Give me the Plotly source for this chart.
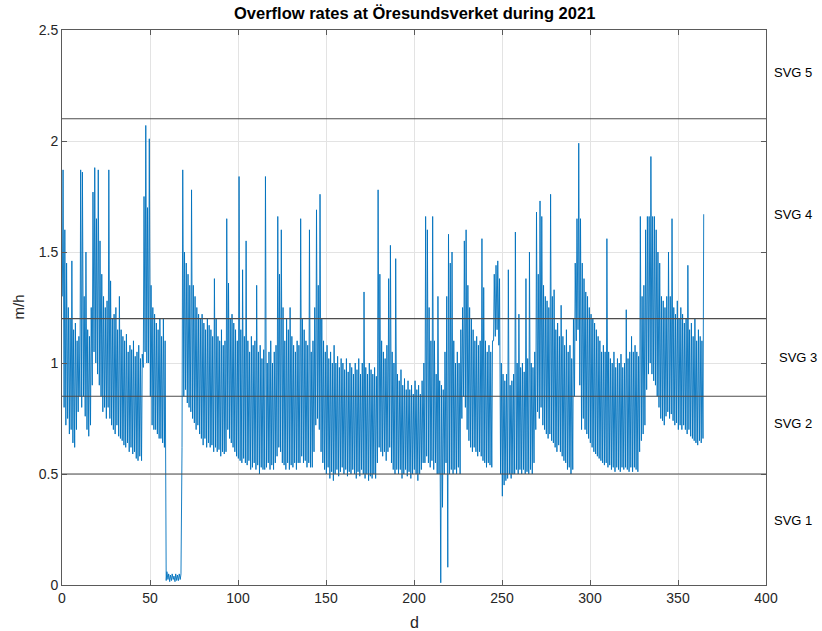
import plotly.graph_objects as go

# Daily overflow-rate extremes (m/h) at Öresundsverket, 2021, day index 0..364
day_high = [
    1.87, 1.60, 1.45, 1.25, 1.20, 1.46, 1.15, 1.18, 1.10, 1.12,
    1.87, 1.86, 1.30, 1.50, 1.15, 1.12, 1.25, 1.77, 1.88, 1.65,
    1.87, 1.55, 1.40, 1.30, 1.25, 1.28, 1.87, 1.37, 1.20, 1.22,
    1.25, 1.15, 1.30, 1.15, 1.12, 1.10, 1.13, 1.05, 1.08, 1.06,
    1.10, 1.03, 1.05, 1.08, 1.02, 1.04, 1.75, 2.07, 1.70, 2.01,
    1.35, 1.25, 1.22, 1.18, 1.15, 1.20, 1.12, 1.20, 1.10, 0.06,
    0.05, 0.045, 0.05, 0.04, 0.05, 0.045, 0.05, 0.05, 1.87, 1.50,
    1.45, 1.40, 1.35, 1.78, 1.35, 1.30, 1.25, 1.22, 1.20, 1.22,
    1.18, 1.15, 1.20, 1.17, 1.15, 1.12, 1.38, 1.20, 1.12, 1.10,
    1.15, 1.08, 1.10, 1.65, 1.36, 1.20, 1.22, 1.18, 1.15, 1.10,
    1.84, 1.15, 1.42, 1.12, 1.55, 1.10, 1.05, 1.12, 1.08, 1.10,
    1.35, 1.05, 1.08, 1.02, 1.06, 1.84, 1.00, 1.05, 1.10, 1.00,
    1.05, 1.08, 1.66, 1.40, 1.60, 1.25, 1.10, 1.20, 1.15, 1.25,
    1.12, 1.08, 1.05, 1.10, 1.08, 1.65, 1.20, 1.15, 1.10, 1.08,
    1.60, 1.05, 1.10, 1.25, 1.69, 1.35, 1.76, 1.20, 1.10, 1.05,
    1.08, 1.02, 1.05, 1.00, 1.08, 1.00, 1.03, 0.98, 1.02, 1.00,
    0.97, 1.02, 0.96, 1.00, 0.98, 0.95, 1.00, 0.97, 1.02, 0.95,
    1.00, 1.32, 0.98, 0.95, 1.00, 0.97, 0.95, 0.98, 0.94, 1.78,
    1.40, 1.10, 1.05, 1.02, 1.08, 1.38, 1.53, 1.05, 1.00, 1.47,
    0.95, 0.92, 0.97, 0.90, 0.93, 0.88, 0.92, 0.88, 0.90, 0.86,
    0.92, 0.88, 0.90, 0.86, 0.92, 1.00, 1.66, 1.60, 1.25, 1.10,
    1.66, 1.10, 0.95, 1.30, 0.92, 0.90, 0.88, 1.05, 1.30, 1.58,
    1.45, 1.50, 1.10, 1.00, 1.05, 1.00, 1.15, 1.25, 1.55, 1.60,
    1.35, 1.25, 1.20, 1.15, 1.10, 1.12, 1.08, 1.10, 1.56, 1.34,
    1.10, 1.05, 1.08, 1.05, 1.10, 1.40, 1.44, 1.46, 1.38, 1.00,
    0.95, 0.92, 0.95, 1.42, 0.90, 0.92, 0.95, 1.59, 1.00, 1.22,
    0.98, 1.00, 0.96, 1.38, 1.02, 1.50, 1.00, 0.98, 1.05, 1.68,
    1.40, 1.73, 1.66, 1.35, 1.30, 1.28, 1.25, 1.76, 1.30, 1.33,
    1.15, 1.18, 1.12, 1.26, 1.12, 1.08, 1.15, 1.05, 1.08, 1.02,
    1.20, 1.45, 1.65, 1.99, 1.65, 1.45, 1.38, 1.32, 1.30, 1.25,
    1.22, 1.20, 1.18, 1.15, 1.12, 1.10, 1.05, 1.08, 1.05, 1.56,
    1.05, 1.02, 1.00, 1.05, 0.98, 1.02, 1.00, 1.04, 0.98, 1.00,
    1.24, 1.02, 1.05, 1.12, 1.05, 1.08, 1.05, 1.03, 1.66, 1.30,
    1.35, 1.60, 1.66, 1.66, 1.93, 1.66, 1.66, 1.60, 1.50, 1.45,
    1.30, 1.28, 1.25, 1.30, 1.50, 1.30, 1.65, 1.25, 1.22, 1.28,
    1.20, 1.25, 1.22, 1.18, 1.20, 1.44, 1.15, 1.18, 1.12, 1.20,
    1.10, 1.15, 1.12, 1.10, 1.67,
]

day_low = [
    1.30, 0.80, 0.72, 0.75, 0.68, 0.70, 0.64, 0.62, 0.70, 0.78,
    0.85, 0.80, 0.85, 0.76, 0.70, 0.67, 0.72, 0.90, 1.05, 1.00,
    0.95, 0.90, 0.85, 0.78, 0.80, 0.75, 0.80, 0.75, 0.72, 0.70,
    0.68, 0.72, 0.67, 0.66, 0.65, 0.63, 0.62, 0.64, 0.60, 0.62,
    0.59, 0.60, 0.57, 0.56, 0.58, 0.56, 0.98, 1.05, 1.00, 1.00,
    0.85, 0.72, 0.70, 0.70, 0.68, 0.66, 0.66, 0.64, 0.62, 0.02,
    0.025, 0.015, 0.02, 0.025, 0.015, 0.02, 0.02, 0.025, 0.62, 0.85,
    0.88, 0.82, 0.80, 0.78, 0.75, 0.73, 0.70, 0.72, 0.68, 0.66,
    0.63, 0.66, 0.62, 0.64, 0.62, 0.63, 0.60, 0.62, 0.60, 0.61,
    0.58, 0.60, 0.59, 0.60, 0.70, 0.66, 0.64, 0.62, 0.60, 0.58,
    0.57, 0.56, 0.55, 0.57, 0.55, 0.54, 0.56, 0.52, 0.53, 0.55,
    0.52, 0.54, 0.50, 0.53, 0.52, 0.52, 0.53, 0.55, 0.52, 0.54,
    0.52, 0.55, 0.58, 0.62, 0.60, 0.55, 0.54, 0.52, 0.55, 0.52,
    0.54, 0.53, 0.55, 0.52, 0.55, 0.55, 0.58, 0.55, 0.56, 0.53,
    0.55, 0.53, 0.53, 0.60, 0.72, 0.75, 0.70, 0.60, 0.55, 0.52,
    0.50, 0.53, 0.48, 0.51, 0.47, 0.50, 0.52, 0.49, 0.51, 0.53,
    0.50, 0.52, 0.49, 0.51, 0.50, 0.52, 0.50, 0.48, 0.51, 0.49,
    0.52, 0.50, 0.48, 0.50, 0.47, 0.49, 0.48, 0.50, 0.48, 0.55,
    0.62, 0.60, 0.58, 0.60, 0.56, 0.60, 0.62, 0.55, 0.52, 0.50,
    0.52, 0.50, 0.52, 0.48, 0.50, 0.52, 0.49, 0.51, 0.48, 0.50,
    0.52, 0.50, 0.47, 0.50, 0.52, 0.55, 0.55, 0.58, 0.55, 0.53,
    0.56, 0.52, 0.55, 0.50, 0.50, 0.01, 0.35, 0.50, 0.55, 0.08,
    0.50, 0.52, 0.50, 0.52, 0.50, 0.53, 0.50, 0.75, 0.85, 0.80,
    0.70, 0.65, 0.62, 0.60, 0.62, 0.60, 0.58, 0.60, 0.58, 0.56,
    0.55, 0.53, 0.55, 0.54, 0.53, 1.10, 1.12, 1.15, 1.08, 0.50,
    0.40, 0.45, 0.47, 0.48, 0.50, 0.48, 0.50, 0.50, 0.52, 0.50,
    0.52, 0.50, 0.52, 0.50, 0.51, 0.50, 0.52, 0.50, 0.55, 0.70,
    0.78, 0.75, 0.80, 0.72, 0.70, 0.68, 0.66, 0.68, 0.65, 0.64,
    0.62, 0.60, 0.63, 0.60, 0.58, 0.56, 0.55, 0.52, 0.53, 0.50,
    0.52, 0.85, 1.10, 1.15, 0.90, 0.70, 0.75, 0.70, 0.68, 0.66,
    0.64, 0.62, 0.60, 0.59, 0.58, 0.57, 0.56, 0.55, 0.54, 0.55,
    0.53, 0.54, 0.52, 0.53, 0.51, 0.53, 0.52, 0.51, 0.53, 0.52,
    0.53, 0.52, 0.51, 0.53, 0.51, 0.53, 0.52, 0.51, 0.60, 0.65,
    0.68, 0.72, 0.88, 0.95, 1.00, 0.95, 0.92, 0.90, 0.85, 0.80,
    0.75, 0.74, 0.72, 0.76, 0.78, 0.75, 0.77, 0.74, 0.72, 0.73,
    0.70, 0.72, 0.70, 0.72, 0.70, 0.68, 0.70, 0.67, 0.66, 0.65,
    0.64, 0.63, 0.65, 0.64, 0.66,
]

# Treatment-class boundaries (m/h) and their labels
class_limits = [0.5, 0.85, 1.2, 2.1]
class_labels = ["SVG 1", "SVG 2", "SVG 3", "SVG 4", "SVG 5"]
class_label_y = [0.29, 0.727, 1.025, 1.67, 2.31]
class_label_x = [1.038, 1.038, 1.045, 1.038, 1.038]

x_ticks = [0, 50, 100, 150, 200, 250, 300, 350, 400]
y_ticks = [0, 0.5, 1, 1.5, 2, 2.5]

# Night minimum then daytime maximum for each day
t, q = [], []
for d, (lo, hi) in enumerate(zip(day_low, day_high)):
    t += [d + 0.2, d + 0.6]
    q += [lo, hi]

FONT = "Liberation Sans, Arial, Helvetica, sans-serif"
INK = "#262626"

fig = go.Figure()
fig.add_trace(go.Scatter(
    x=t, y=q, mode="lines",
    line=dict(color="#0072BD", width=0.9),
    hoverinfo="skip", showlegend=False,
))

for lim in class_limits:
    fig.add_shape(type="line", xref="x domain", yref="y",
                  x0=0, x1=1, y0=lim, y1=lim,
                  line=dict(color="#4d4d4d", width=1.1))

for lab, ly, lx in zip(class_labels, class_label_y, class_label_x):
    fig.add_annotation(text=lab, xref="paper", yref="y", x=lx, y=ly,
                       xanchor="center", yanchor="middle", showarrow=False,
                       font=dict(family=FONT, size=13, color="#000000"))

fig.add_annotation(text="<b>Overflow rates at Öresundsverket during 2021</b>",
                   xref="paper", yref="paper", x=0.5, y=1, yshift=17,
                   xanchor="center", yanchor="middle", showarrow=False,
                   font=dict(family=FONT, size=16.5, color="#000000"))
fig.add_annotation(text="d", xref="paper", yref="paper", x=0.5, y=0, yshift=-37,
                   xanchor="center", yanchor="middle", showarrow=False,
                   font=dict(family=FONT, size=16, color=INK))
fig.add_annotation(text="m/h", xref="paper", yref="paper", x=0, xshift=-44, y=0.5,
                   textangle=-90, xanchor="center", yanchor="middle", showarrow=False,
                   font=dict(family=FONT, size=15, color=INK))

axis_common = dict(
    showline=True, linecolor="#5a5a5a", linewidth=1, mirror="allticks",
    ticks="inside", ticklen=5, tickcolor="#5a5a5a", tickwidth=1,
    showgrid=True, gridcolor="#e3e3e3", gridwidth=1, zeroline=False,
    tickfont=dict(family=FONT, size=14, color=INK),
)

fig.update_xaxes(range=[0, 400], tickvals=x_ticks, **axis_common)
fig.update_yaxes(range=[0, 2.5], tickvals=y_ticks,
                 ticktext=[f"{v:g}" for v in y_ticks], **axis_common)

fig.update_layout(
    width=822, height=631,
    margin=dict(l=62, r=56, t=30, b=46),
    paper_bgcolor="white", plot_bgcolor="white",
)

fig.write_html("out.html")
